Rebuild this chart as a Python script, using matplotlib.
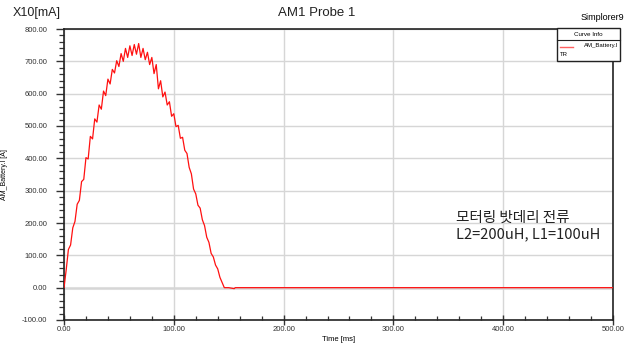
import matplotlib
matplotlib.use('Agg')
from matplotlib import pyplot as plt
from matplotlib.ticker import MultipleLocator, FormatStrFormatter
from matplotlib.patches import Rectangle
from matplotlib.lines import Line2D

plt.rcParams['font.family'] = ['Liberation Sans', 'DejaVu Sans']

# battery current probe (units: X10 mA)
time_ms = [0, 2, 4, 6, 8, 10, 12, 14, 16, 18, 20, 22, 24, 26, 28, 30, 32, 34, 36, 38,
           40, 42, 44, 46, 48, 50, 52, 54, 56, 58, 60, 62, 64, 66, 68, 70, 72, 74, 76, 78,
           80, 82, 84, 86, 88, 90, 92, 94, 96, 98, 100, 102, 104, 106, 108, 110, 112, 114,
           116, 118, 120, 122, 124, 126, 128, 130, 132, 134, 136, 138, 140, 142, 144, 146,
           150, 155, 156, 500]
current = [0, 55, 118, 132, 185, 205, 258, 270, 328, 335, 402, 398, 468, 460, 522, 512,
           565, 552, 608, 594, 645, 630, 675, 664, 702, 684, 724, 700, 740, 712, 748, 718,
           752, 722, 755, 712, 740, 705, 728, 690, 712, 662, 690, 615, 640, 590, 605, 565,
           575, 530, 538, 498, 502, 462, 465, 425, 415, 372, 352, 305, 290, 255, 246, 210,
           192, 156, 140, 106, 95, 70, 58, 32, 16, 0, 0, -3, 0, 0]

x_range = (0, 500)
y_range = (-100, 800)

fig = plt.figure(figsize=(6.34, 3.45), dpi=100)
ax = fig.add_axes([64 / 634, 25 / 345, 549 / 634, 291 / 345])

ax.axhline(0, color='#e2e2e2', lw=2.2, zorder=1)
ax.plot(time_ms, current, color='#ff1010', lw=0.9, zorder=3)

ax.set_xlim(*x_range)
ax.set_ylim(*y_range)
ax.xaxis.set_major_locator(MultipleLocator(100))
ax.xaxis.set_minor_locator(MultipleLocator(20))
ax.yaxis.set_major_locator(MultipleLocator(100))
ax.yaxis.set_minor_locator(MultipleLocator(20))
ax.xaxis.set_major_formatter(FormatStrFormatter('%.2f'))
ax.yaxis.set_major_formatter(FormatStrFormatter('%.2f'))
ax.grid(True, which='major', color='#d6d6d6', lw=1.0, zorder=0)

ax.tick_params(axis='y', which='major', direction='out', length=6, width=1.0,
               labelsize=5.5, pad=6, colors='#333333')
ax.tick_params(axis='y', which='minor', direction='out', length=3.5, width=0.9, colors='#333333')
ax.tick_params(axis='x', which='major', direction='inout', length=7, width=1.0,
               labelsize=5.5, pad=1, colors='#333333')
ax.tick_params(axis='x', which='minor', direction='in', length=3, width=0.9, colors='#333333')

for side in ax.spines.values():
    side.set_color('#222222')
    side.set_linewidth(1.2)

ax.set_xlabel('Time [ms]', fontsize=5.5, labelpad=2)
ax.set_ylabel('AM_Battery.I [A]', fontsize=5, labelpad=10)

fig.text(0.5, 1 - 13 / 345, 'AM1 Probe 1', ha='center', va='center', fontsize=9.5, color='#222222')
fig.text(13 / 634, 1 - 13 / 345, 'X10[mA]', ha='left', va='center', fontsize=9, color='#222222')
fig.text(624 / 634, 1 - 17 / 345, 'Simplorer9', ha='right', va='center', fontsize=6.5)

fig.text(456 / 634, 1 - 226 / 345, '모터링 밧데리 전류\nL2=200uH, L1=100uH', ha='left', va='center',
         fontsize=10.5, linespacing=1.3, color='#222222',
         family=['Noto Sans CJK KR', 'DejaVu Sans'], zorder=4)

# curve info box
x0, x1 = 557 / 634, 620 / 634
y0, y1 = 1 - 61 / 345, 1 - 28 / 345
fig.patches.append(Rectangle((x0, y0), x1 - x0, y1 - y0, transform=fig.transFigure,
                             facecolor='white', edgecolor='#222222', lw=1.0, zorder=5))
fig.lines.append(Line2D([x0, x1], [1 - 40 / 345] * 2, transform=fig.transFigure,
                        color='#222222', lw=0.8, zorder=6))
fig.text((x0 + x1) / 2, 1 - 34 / 345, 'Curve Info', ha='center', va='center', fontsize=4.5, zorder=7)
fig.lines.append(Line2D([560 / 634, 573 / 634], [1 - 47 / 345] * 2, transform=fig.transFigure,
                        color='#ff6060', lw=1.0, zorder=6))
fig.text(618 / 634, 1 - 45 / 345, 'AM_Battery.I', ha='right', va='center', fontsize=4.3, zorder=7)
fig.text(560 / 634, 1 - 55 / 345, 'TR', ha='left', va='center', fontsize=4.3, zorder=7)

fig.savefig('out.png', dpi=100)
